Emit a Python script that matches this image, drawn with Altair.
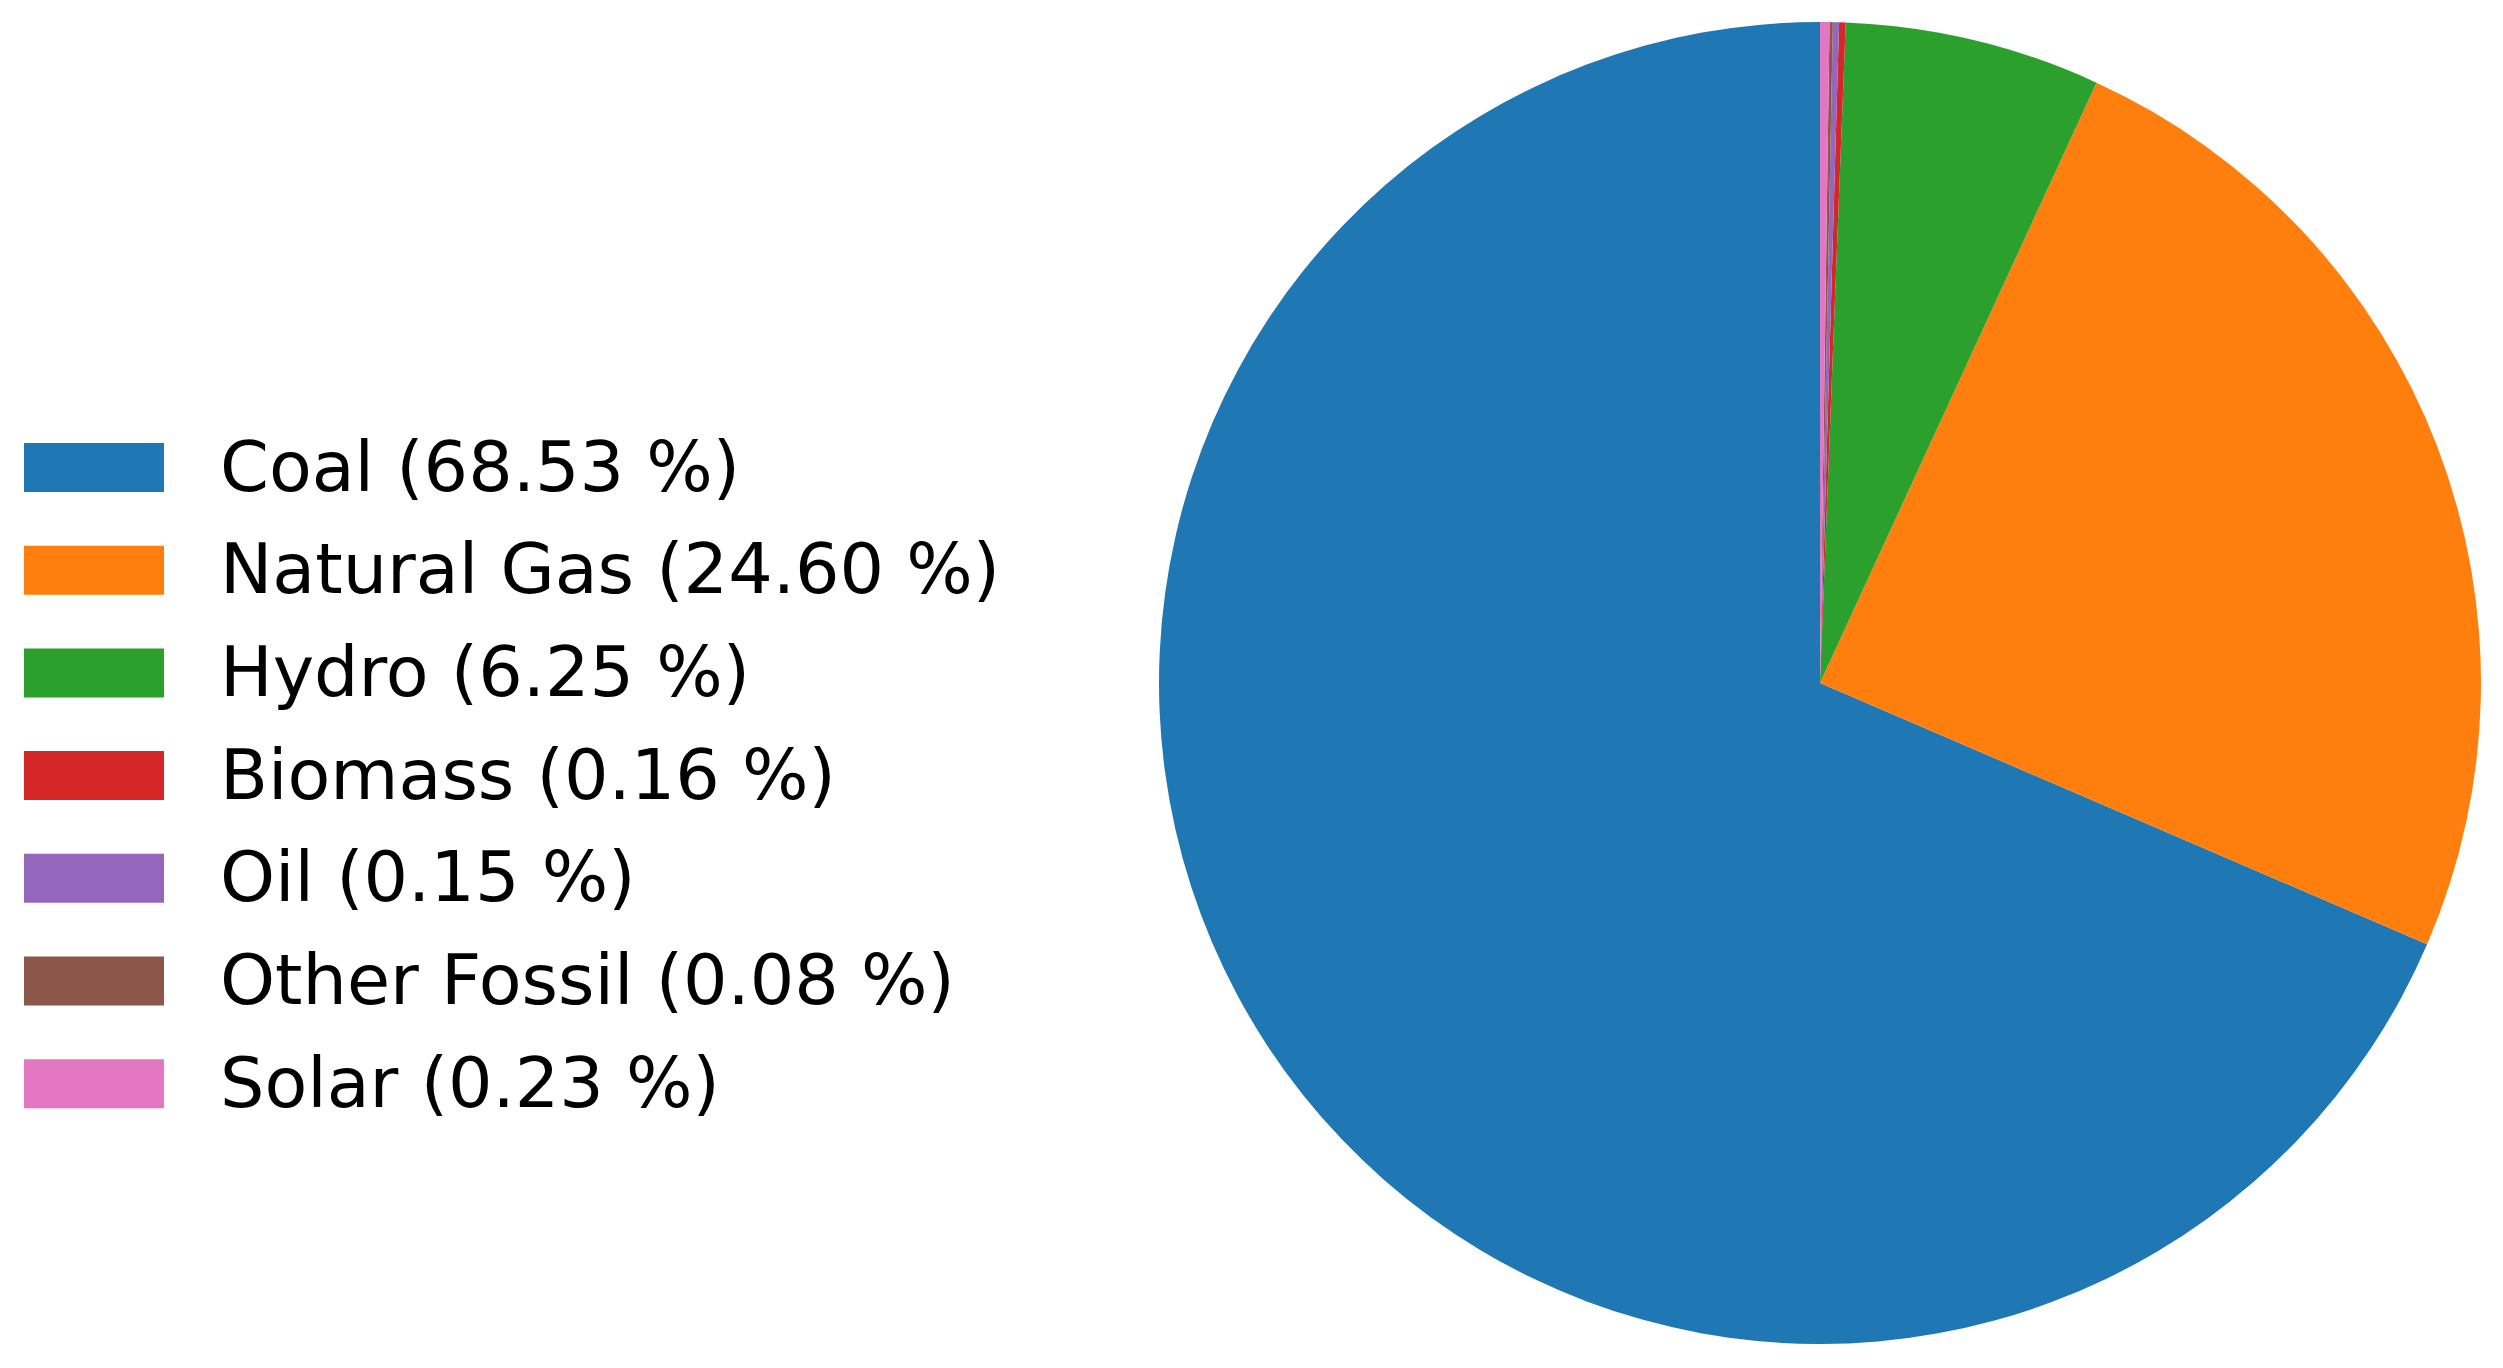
import altair as alt
import pandas as pd

sources = ["Coal", "Natural Gas", "Hydro", "Biomass", "Oil", "Other Fossil", "Solar"]
shares = [68.53, 24.60, 6.25, 0.16, 0.15, 0.08, 0.23]
colors = ["#1f77b4", "#ff7f0e", "#2ca02c", "#d62728", "#9467bd", "#8c564b", "#e377c2"]

labels = [f"{s} ({v:.2f} %)" for s, v in zip(sources, shares)]
df = pd.DataFrame({
    "label": labels,
    "share": shares,
    "order": list(range(len(sources), 0, -1)),
})

rect_path = "M-1,-0.35L1,-0.35L1,0.35L-1,0.35Z"
color_scale = alt.Scale(domain=labels, range=colors)
legend_y = alt.Y(
    "label:N",
    sort=labels,
    scale=alt.Scale(type="point", domain=labels, range=[459.5, 1075.7], padding=0),
    axis=None,
)

base = alt.Chart(df)

pie = base.mark_arc(radius=661, stroke=None).encode(
    theta=alt.Theta("share:Q", stack=True),
    order=alt.Order("order:Q"),
    x=alt.value(1812),
    y=alt.value(675),
    color=alt.Color("label:N", scale=color_scale, legend=None),
)

swatches = base.mark_point(
    shape=rect_path, size=140 * 140, filled=True, opacity=1, strokeWidth=0
).encode(
    x=alt.value(86),
    y=legend_y,
    color=alt.Color("label:N", scale=color_scale, legend=None),
)

texts = base.mark_text(
    align="left", baseline="middle", font="DejaVu Sans", fontSize=70, color="black", dy=2
).encode(
    x=alt.value(212),
    y=legend_y,
    text="label:N",
)

chart = alt.layer(pie, swatches, texts).properties(
    width=2487,
    height=1352,
    padding=0,
    autosize=alt.AutoSizeParams(type="none"),
).configure_view(stroke=None)

chart.save("out.html", embed_options={"renderer": "svg", "actions": False})
